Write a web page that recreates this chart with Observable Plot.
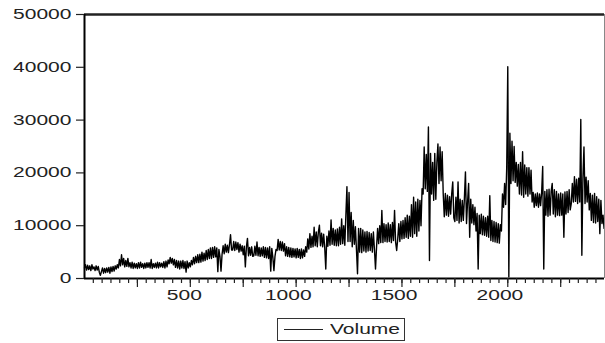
<!DOCTYPE html>
<html><head><meta charset="utf-8">
<script src="https://cdn.jsdelivr.net/npm/d3@7"></script>
<script src="https://cdn.jsdelivr.net/npm/@observablehq/plot@0.6"></script>
<style>
body{margin:0;background:#fff;font-family:"Liberation Sans",Arial,sans-serif;}
#wrap{position:relative;width:605px;height:343px;overflow:hidden;}
#legend{position:absolute;left:277px;top:318px;width:128px;height:23px;border:1px solid #333;box-sizing:border-box;background:#fff;}
#legend .ln{position:absolute;left:6px;top:10px;width:39px;height:0;border-top:1px solid #222;}
#legend .tx{position:absolute;left:52px;top:2px;font-size:14px;line-height:17px;color:#222;transform:scaleX(1.5);transform-origin:left center;white-space:nowrap;}
</style>
</head><body>
<div id="wrap"><div id="chart"></div><div id="legend"><div class="ln"></div><div class="tx">Volume</div></div></div>
<script>
const obsStep = 5;
const volume = [
2000,2600,1600,2500,1700,2400,1500,2600,1800,2200,
1500,2400,1600,2300,1200,600,1300,2000,1000,1900,
1100,2000,1200,2100,1000,2200,1300,2300,1400,2400,
1800,2600,2000,3600,2400,4500,2600,3800,2200,3400,
2300,3800,2200,3000,2000,3100,1900,2900,2000,2800,
1900,3000,2000,3100,2100,2800,1900,2900,2000,3000,
2100,3000,2000,3600,1900,2800,2100,2900,2000,3100,
2000,3000,2200,2900,2100,3200,2000,3300,2200,3500,
2800,4000,2900,3800,2600,3600,2100,3400,2000,3300,
1800,3300,2000,3400,1900,3200,1200,3300,2000,3000,
2200,3400,2600,4000,2800,4200,3000,4500,3000,4600,
3100,5000,3300,4800,3400,5300,3600,5500,3800,5800,
3800,5900,4000,6000,4100,5800,1300,5500,4200,1400,
4600,6200,4700,6500,5000,6300,4900,6400,8300,5400,
5400,7000,5300,6900,5500,6800,5000,6500,5200,6200,
4500,6100,2200,6000,7600,4300,5900,4400,6000,4200,
4300,6100,4400,6900,4300,5900,4200,5800,4300,6000,
4000,5900,3900,5800,3800,6000,1400,5700,4000,1500,
4200,5500,5300,7400,5400,7000,5300,6900,5200,6600,
4300,6000,4200,5900,4100,5800,4000,5700,4100,5600,
3900,5700,4000,5500,3800,5600,3900,5400,4200,6000,
5000,7500,5600,8500,5900,8000,6000,9700,6200,8800,
6000,8800,10100,6200,8600,6000,8400,5900,1800,8000,
6100,9000,6300,11100,6500,9500,6300,9200,6200,9400,
6200,9700,6500,11300,6600,10000,6300,12000,17400,7000,
16300,7000,12500,6000,11000,6500,9800,5500,900,9500,
5000,9500,4900,9200,5200,8800,5000,8900,5200,8700,
5300,8500,5000,8800,5500,1800,6000,9500,6600,10000,
6800,12900,6800,10400,7000,10200,6900,10500,7000,10200,
6800,10600,7200,12900,6900,5300,7500,10400,7000,10800,
7500,11000,7600,11500,7800,12000,7600,11800,8000,14000,
7800,15400,8500,14500,8000,15000,9000,14800,10000,17000,
16000,24900,17000,23500,16500,28700,3400,23700,16000,22000,
14800,23700,15000,22000,25500,18000,24900,18500,24000,16000,
11700,16100,12000,15800,11800,15500,12200,16000,18300,11500,
10800,15400,11000,18300,10500,15000,10800,14800,11000,15200,
20200,10400,14500,18000,7800,15000,10500,14000,10200,13500,
9000,12300,1800,12000,8500,12200,8300,11800,8200,11500,
8000,11800,7800,15700,7200,11000,7000,10800,6900,10600,
6800,10400,6700,10200,9000,16000,13500,18000,14000,21000,
40100,300,27500,18000,26000,18500,25000,18200,22000,17500,
21600,16000,22000,15800,24000,15400,21500,16000,21000,15600,
21000,16000,20500,14500,16300,13500,16000,13800,16200,13500,
16000,13800,16300,21200,1800,16500,12000,16800,11800,16900,
12000,16500,18000,12200,16800,11700,16500,12000,16000,11900,
16200,12000,16000,7800,16400,12200,16500,12500,16800,13000,
14200,18000,14500,19300,14600,18800,14200,19000,14500,30100,
4400,19000,24900,14200,19200,14500,18500,13000,16100,11000,
15800,10600,16100,10500,15500,10800,15000,8500,14800,10400,
12000,9500
];
const obs = volume.map((_, i) => i * obsStep);
const xMax = 2457;
const yTicks = [0, 10000, 20000, 30000, 40000, 50000];
const xLabelTicks = [500, 1000, 1500, 2000];
const xMajorTicks = [250, 500, 750, 1000, 1250, 1500, 1750, 2000, 2250];
const xMinorTicks = d3.range(1, 59).map(k => k * 250 / 6).filter(v => v < xMax);

const data = volume.map((v, i) => ({obs: obs[i], volume: v}));

const chart = Plot.plot({
  width: 605, height: 305,
  marginLeft: 84, marginRight: 1, marginTop: 14, marginBottom: 27,
  x: {domain: [0, xMax]},
  y: {domain: [0, 50000]},
  style: {fontFamily: "'Liberation Sans', Arial, sans-serif", fontSize: "14px", color: "#222", background: "white", overflow: "visible"},
  marks: [
    Plot.lineY(data, {x: "obs", y: "volume", stroke: "black", strokeWidth: 1.4}),
    Plot.ruleY([50000], {stroke: "#222", strokeWidth: 2.5}),
    Plot.ruleX([xMax], {stroke: "#888", strokeWidth: 1}),
    Plot.ruleX([0], {stroke: "black", strokeWidth: 2}),
    Plot.ruleY([0], {stroke: "black", strokeWidth: 2}),
    Plot.axisY(yTicks, {tickSize: 8, tickPadding: 5, tickFormat: d3.format("d"), label: null, strokeWidth: 1.2}),
    Plot.axisX(xMinorTicks, {tickSize: 5, tickFormat: () => "", label: null, strokeWidth: 1.2}),
    Plot.axisX(xMajorTicks, {tickSize: 9, tickFormat: () => "", label: null, strokeWidth: 1.2}),
    Plot.axisX(xLabelTicks, {tickSize: 0, tickPadding: 12, tickFormat: d3.format("d"), label: null})
  ]
});
document.getElementById("chart").appendChild(chart);

// widen tick labels horizontally like the reference
chart.querySelectorAll("text").forEach(t => {
  if (!t.textContent) return;
  const b = t.getBBox();
  const isY = (b.x + b.width) < 84 && b.y < 285;
  const ax = isY ? b.x + b.width : b.x + b.width / 2;
  const prev = t.getAttribute("transform") || "";
  t.setAttribute("transform", prev + ` translate(${ax},0) scale(1.5,1) translate(${-ax},0)`);
});
</script>
</body></html>
